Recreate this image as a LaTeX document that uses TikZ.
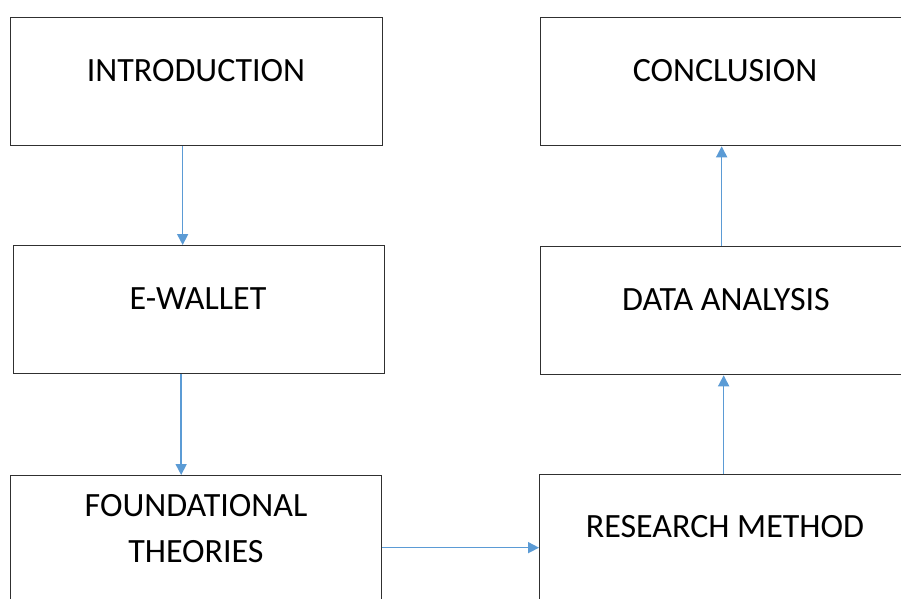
\documentclass[tikz,border=0pt]{standalone}
\usepackage{fontspec}
\setmainfont{Carlito}
\usetikzlibrary{arrows.meta}
\definecolor{arrowblue}{HTML}{5B9BD5}
\definecolor{boxline}{HTML}{303030}
\begin{document}
\begin{tikzpicture}[x=1pt,y=-1pt,
  box/.style={draw=boxline,line width=1.3pt,minimum width=372pt,minimum height=128pt,inner sep=0pt,anchor=north west},
  lbl/.style={font=\fontsize{34}{40}\selectfont,anchor=base,inner sep=0pt,text=black},
  arr/.style={draw=arrowblue,line width=1.6pt,-{Triangle[length=11pt,width=11pt]}}]
\useasboundingbox (0,0) rectangle (901,598);
\fill[white] (0,0) rectangle (901,598);
\clip (0,0) rectangle (901,598);
\node[box] (intro) at (10,17) {};
\node[box,minimum width=371pt] (ewallet) at (13,245) {};
\node[box,minimum width=371pt] (found) at (10,475) {};
\node[box] (conc) at (540,17) {};
\node[box] (data) at (540,246) {};
\node[box] (research) at (539,474) {};
\node[lbl] (tintro) at (196,81) {INTRODUCTION};
\node[lbl] (tewallet) at (198,309) {E-WALLET};
\node[lbl] (tfound1) at (196,516) {FOUNDATIONAL};
\node[lbl] (tfound2) at (196,562) {THEORIES};
\node[lbl] (tconc) at (725,81) {CONCLUSION};
\node[lbl] (tdata) at (726,310) {DATA ANALYSIS};
\node[lbl] (tresearch) at (725,537) {RESEARCH METHOD};
\draw[arr] ([xshift=-14pt]intro.south) -- ([xshift=-14pt]intro.south |- ewallet.north);
\draw[arr] ([xshift=-18pt]ewallet.south) -- ([xshift=-18pt]ewallet.south |- found.north);
\draw[arr] ([yshift=-8pt]found.east) -- ([yshift=-8pt]found.east -| research.west);
\draw[arr] ([xshift=-5pt]data.north) -- ([xshift=-5pt]data.north |- conc.south);
\draw[arr] ([xshift=-2pt]research.north) -- ([xshift=-2pt]research.north |- data.south);
\end{tikzpicture}
\end{document}
